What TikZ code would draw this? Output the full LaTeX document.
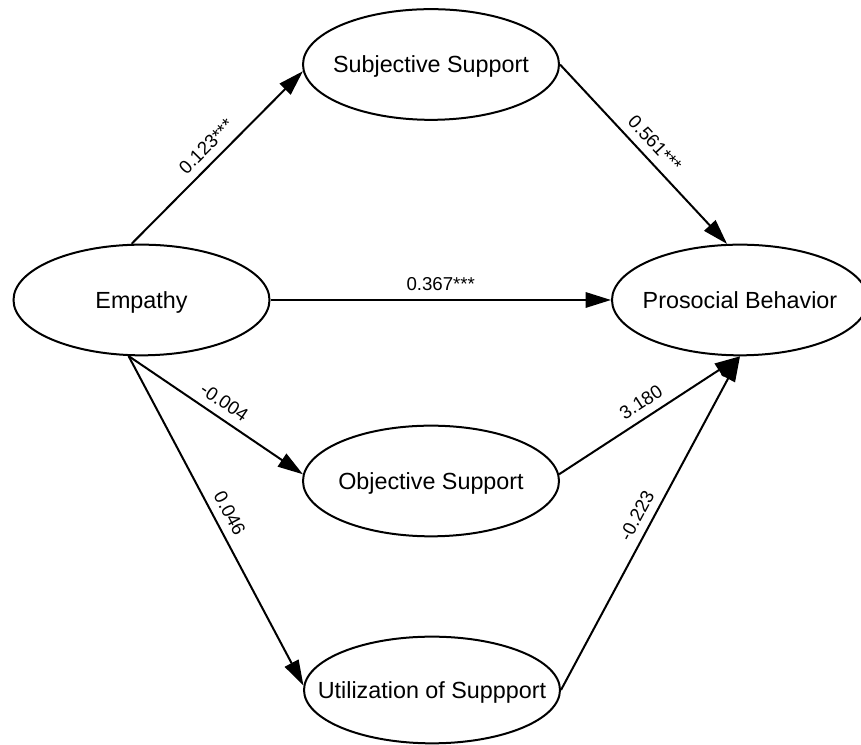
\documentclass[tikz,border=0pt]{standalone}
\usepackage{fontspec}
\setmainfont{Liberation Sans}
\usetikzlibrary{shapes.geometric,arrows.meta}

\newcommand{\ctext}[1]{\makebox[0pt]{#1}}

\tikzset{
  latent/.style={draw, ellipse, line width=1.5pt, inner sep=0pt,
    minimum width=192pt, minimum height=83pt,
    font=\fontsize{17.5}{21}\selectfont, text height=12.5pt, text depth=0pt},
  effect/.style={-{Triangle[length=19pt,width=11.5pt]}, line width=1.5pt},
  coef/.style={midway, sloped, above=5pt, inner sep=1pt,
    font=\fontsize{14}{17}\selectfont}
}

\begin{document}
\begin{tikzpicture}[x=0.75pt,y=0.75pt]
\useasboundingbox (0,0) rectangle (861,745);

% Latent variables
\node[latent] (subj) at (431,680.5) {\ctext{Subjective Support}};
\node[latent] (emp) at (141.5,445) {\ctext{Empathy}};
\node[latent] (pro) at (740,445) {\ctext{Prosocial Behavior}};
\node[latent] (obj) at (431,264) {\ctext{Objective Support}};
\node[latent, minimum height=80pt] (util) at (432,55) {\ctext{Utilization of Suppport}};

% Paths with coefficients
\draw[effect] (emp.100) -- (subj.183) node[coef] {0.123***};
\draw[effect] (subj.east) -- (pro.103) node[coef] {0.561***};
\draw[effect] (emp.east) -- (pro.west) node[coef] {0.367***};
\draw[effect] (emp.257) -- (obj.177) node[coef] {-0.004};
\draw[effect] (emp.257) -- (util.178) node[coef] {0.046};
\draw[effect] (obj.3) -- (pro.south) node[coef] {3.180};
\draw[effect] (util.east) -- (pro.south) node[coef] {-0.223};
\end{tikzpicture}
\end{document}
